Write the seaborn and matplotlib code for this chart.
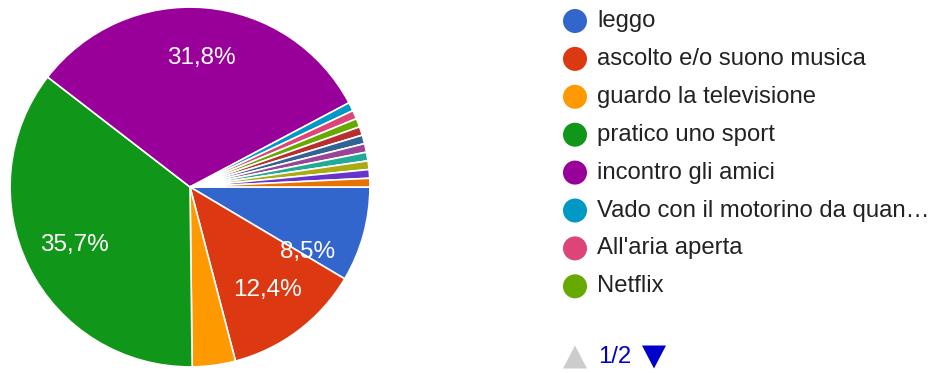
import numpy as np
import matplotlib
matplotlib.use("Agg")
import matplotlib.pyplot as plt
from matplotlib.patches import Circle, Polygon
import seaborn as sns

# Responses per answer (129 in total), in slice order
counts = [11, 16, 5, 46, 41, 1, 1, 1, 1, 1, 1, 1, 1, 1, 1]

# Legend entries visible on the first legend page
legend_labels = [
    "leggo",
    "ascolto e/o suono musica",
    "guardo la televisione",
    "pratico uno sport",
    "incontro gli amici",
    "Vado con il motorino da quan\u2026",
    "All'aria aperta",
    "Netflix",
]
page_text = "1/2"

palette = sns.color_palette([
    "#3366cc", "#dc3912", "#ff9900", "#109618", "#990099",
    "#0099c6", "#dd4477", "#66aa00", "#b82e2e", "#316395",
    "#994499", "#22aa99", "#aaaa11", "#6633cc", "#e67300",
])

sns.set_theme(style="white")
plt.rcParams["font.family"] = ["Liberation Sans", "DejaVu Sans"]

W, H = 937, 373
fig = plt.figure(figsize=(W / 100, H / 100), dpi=100)

# Pie axes: centre at (190, 187) px, radius ~180 px
R = 181
ax = fig.add_axes([(190 - R) / W, (H - 187 - R) / H, 2 * R / W, 2 * R / H])


def fmt(p):
    return f"{p:.1f}%".replace(".", ",") if p >= 5 else ""


wedges, texts, autotexts = ax.pie(
    counts,
    colors=palette,
    startangle=0,
    counterclock=False,
    autopct=fmt,
    pctdistance=0.72,
    wedgeprops=dict(edgecolor="white", linewidth=1.2),
    textprops=dict(color="white", fontsize=17.5),
)
ax.set_xlim(-1.006, 1.006)
ax.set_ylim(-1.006, 1.006)
ax.set_aspect("equal")
ax.axis("off")

# the first label sits nearer the lower edge of its slice
ang = np.deg2rad(-28.8)
autotexts[0].set_position((0.745 * np.cos(ang), 0.745 * np.sin(ang)))

# Legend drawn in pixel coordinates
lg = fig.add_axes([0, 0, 1, 1])
lg.set_xlim(0, W)
lg.set_ylim(H, 0)
lg.axis("off")
y0, dy = 21, 37.9
for i, lab in enumerate(legend_labels):
    y = y0 + i * dy
    lg.add_patch(Circle((575, y), 12, color=palette[i], lw=0))
    lg.text(597, y, lab, fontsize=17.2, color="#222222", va="center", ha="left")

yb = 357
lg.add_patch(Polygon([(563, yb + 11.5), (587, yb + 11.5), (575, yb - 11.5)],
                     closed=True, color="#cccccc", lw=0))
lg.text(598, yb, page_text, fontsize=17.2, color="#0000cc", va="center", ha="left")
lg.add_patch(Polygon([(642, yb - 11.5), (666, yb - 11.5), (654, yb + 11.5)],
                     closed=True, color="#0000cc", lw=0))

fig.savefig("out.png", dpi=100, facecolor="white")
